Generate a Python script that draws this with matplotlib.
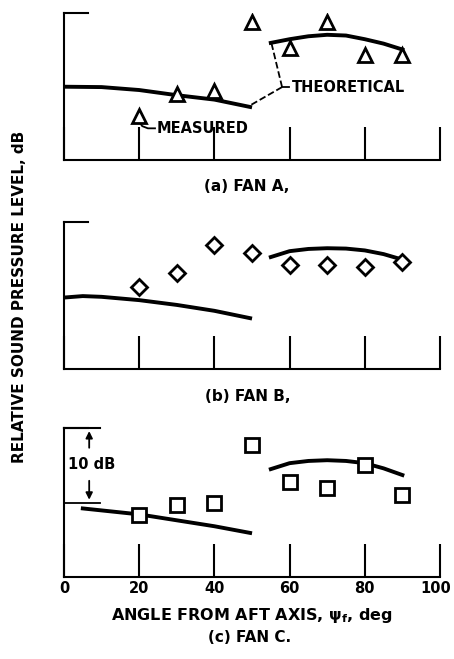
import numpy as np
import matplotlib
matplotlib.use("Agg")
import matplotlib.pyplot as plt
import matplotlib.transforms as mtransforms

plt.rcParams['font.family'] = ['DejaVu Sans']
plt.rcParams['font.weight'] = 'bold'
plt.rcParams['axes.labelweight'] = 'bold'
plt.rcParams['mathtext.default'] = 'bf'

# angles of measured points (deg)
angles = [20, 30, 40, 50, 60, 70, 80, 90]

# measured levels, dB (relative, 0 = bottom of each panel)
meas_a = [6.0, 9.0, 9.4, 18.8, 15.2, 18.8, 14.2, 14.2]
meas_b = [11.2, 13.0, 16.8, 15.8, 14.1, 14.1, 13.8, 14.5]
meas_c = [8.3, 9.6, 9.9, 17.7, 12.8, 12.0, 15.05, 11.0]

# theoretical curves, two branches per fan
th1_x_a = [0, 10, 20, 30, 40, 49.5]
th1_y_a = [9.95, 9.9, 9.5, 8.8, 8.2, 7.2]
th2_x = [55, 60, 65, 70, 75, 80, 85, 90]
th2_y_a = [15.9, 16.4, 16.8, 17.0, 16.9, 16.4, 15.8, 15.0]

th1_x_b = [0, 5, 10, 20, 30, 40, 49.5]
th1_y_b = [9.7, 9.9, 9.8, 9.35, 8.7, 7.9, 6.9]
th2_x_b = [55, 60, 65, 70, 75, 80, 85, 89]
th2_y_b = [15.2, 16.0, 16.3, 16.4, 16.35, 16.1, 15.6, 15.0]

th1_x_c = [5, 20, 30, 40, 49.5]
th1_y_c = [9.2, 8.4, 7.6, 6.8, 5.9]
th2_y_c = [14.5, 15.3, 15.6, 15.7, 15.6, 15.3, 14.6, 13.7]

xticks = [0, 20, 40, 60, 80, 100]

W, H = 454, 659
fig = plt.figure(figsize=(W / 100, H / 100), dpi=100)

def make_ax(top_px, bot_px):
    left, right = 64 / W, 440 / W
    ax = fig.add_axes([left, 1 - bot_px / H, right - left, (bot_px - top_px) / H])
    ax.set_xlim(0, 100)
    ax.set_ylim(0, 20)
    for s in ['top', 'right']:
        ax.spines[s].set_visible(False)
    for s in ['left', 'bottom']:
        ax.spines[s].set_linewidth(1.5)
    ax.set_yticks([])
    ax.set_xticks(xticks)
    ax.tick_params(axis='x', direction='in', length=24, width=1.5,
                   labelbottom=False)
    # short top-left stub
    ax.plot([0, 6.4], [20, 20], color='black', lw=1.5, clip_on=False)
    ax.patch.set_alpha(0)
    return ax

ax_a = make_ax(12.7, 160)
ax_b = make_ax(221.7, 369)
ax_c = make_ax(428.3, 576.7)

lw_th = 2.8
mk = dict(color='black', linestyle='none', markerfacecolor='white',
          markeredgewidth=2.0, zorder=3)

# panel a
ax_a.plot(th1_x_a, th1_y_a, color='black', lw=lw_th)
ax_a.plot(th2_x, th2_y_a, color='black', lw=lw_th)
ax_a.plot(angles, meas_a, marker='^', markersize=10, **mk)
ax_a.plot([58.0, 55.2], [9.9, 15.8], 'k--', lw=1.3)
ax_a.plot([58.0, 49.8], [9.9, 7.5], 'k--', lw=1.3)
ax_a.plot([58.0, 59.8], [9.9, 9.9], 'k-', lw=1.3)
ax_a.text(60.6, 9.8, 'THEORETICAL', fontsize=10.5, va='center', ha='left')
ax_a.plot([20.0, 20.8, 22.3, 24.2], [5.2, 4.6, 4.3, 4.3], 'k-', lw=1.3)
ax_a.text(24.6, 4.3, 'MEASURED', fontsize=10.5, va='center', ha='left')
ax_a.text(48.5, -3.6, '(a) FAN A,', fontsize=11, ha='center', va='center')

# panel b
ax_b.plot(th1_x_b, th1_y_b, color='black', lw=lw_th)
ax_b.plot(th2_x_b, th2_y_b, color='black', lw=lw_th)
ax_b.plot(angles, meas_b, marker='D', markersize=8, **mk)
ax_b.text(49, -3.8, '(b) FAN B,', fontsize=11, ha='center', va='center')

# panel c
ax_c.plot(th1_x_c, th1_y_c, color='black', lw=lw_th)
ax_c.plot(th2_x, th2_y_c, color='black', lw=lw_th)
ax_c.plot(angles, meas_c, marker='s', markersize=10, **mk)
ax_c.tick_params(axis='x', labelbottom=True, labelsize=10.5, pad=3)
last = ax_c.get_xticklabels()[-1]
last.set_transform(last.get_transform() +
                   mtransforms.ScaledTranslation(-4 / 100, 0, fig.dpi_scale_trans))
ax_c.plot([0, 9.6], [20, 20], color='black', lw=1.5, clip_on=False)
ax_c.plot([0, 9.6], [10, 10], color='black', lw=1.3)
ax_c.annotate('', xy=(6.7, 20), xytext=(6.7, 17.0),
              arrowprops=dict(arrowstyle='-|>', color='black', lw=1.3))
ax_c.annotate('', xy=(6.7, 10), xytext=(6.7, 13.3),
              arrowprops=dict(arrowstyle='-|>', color='black', lw=1.3))
ax_c.text(7.4, 15.1, '10 dB', fontsize=10.5, ha='center', va='center')
ax_c.set_xlabel(r'ANGLE FROM AFT AXIS, $\psi_f$, deg', fontsize=11.5,
                fontweight='bold', labelpad=7)

fig.text(250 / W, 1 - 637 / H, '(c) FAN C.', fontsize=11, ha='center', va='center')
fig.text(20 / W, 1 - 297 / H, 'RELATIVE SOUND PRESSURE LEVEL, dB', fontsize=11,
         rotation=90, ha='center', va='center')

fig.savefig('out.png', dpi=100)
